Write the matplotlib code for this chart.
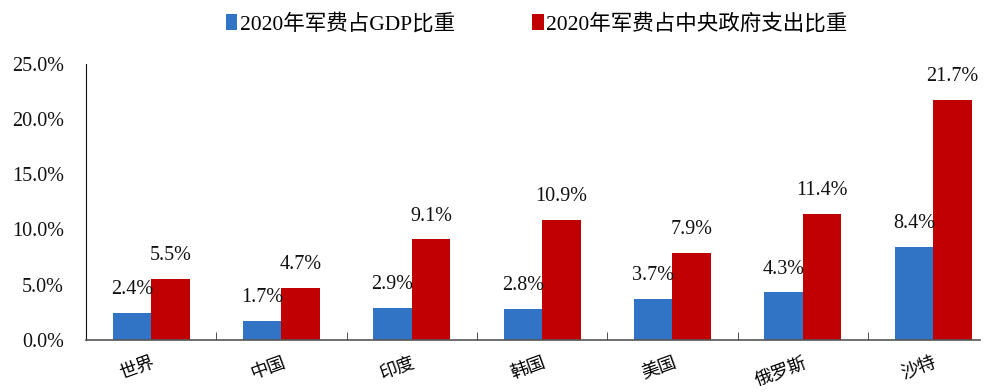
import numpy as np
import matplotlib.pyplot as plt
from matplotlib.ticker import PercentFormatter, FixedLocator

plt.rcParams['font.family'] = ['Liberation Serif', 'Noto Sans CJK SC']

countries = ['世界', '中国', '印度', '韩国', '美国', '俄罗斯', '沙特']
gdp_share = [2.4, 1.7, 2.9, 2.8, 3.7, 4.3, 8.4]
budget_share = [5.5, 4.7, 9.1, 10.9, 7.9, 11.4, 21.7]
series_names = ['2020年军费占GDP比重', '2020年军费占中央政府支出比重']

BLUE = '#3174C6'
RED = '#C00000'

fig = plt.figure(figsize=(9.88, 3.92), dpi=100)
ax = fig.add_axes([0.087, 0.133, 0.905, 0.704])

x = np.arange(len(countries))
w = 0.295
b1 = ax.bar(x - w / 2, gdp_share, w, color=BLUE, label=series_names[0])
b2 = ax.bar(x + w / 2, budget_share, w, color=RED, label=series_names[1])

for bars, vals in ((b1, gdp_share), (b2, budget_share)):
    for rect, v in zip(bars, vals):
        ax.annotate(f'{v:.1f}%', (rect.get_x() + rect.get_width() / 2, v),
                    xytext=(0, 10), textcoords='offset points',
                    ha='center', va='bottom', fontsize=14.5, color='#111111')

ax.set_ylim(0, 25)
ax.set_xlim(-0.5, 6.36)
ax.yaxis.set_major_formatter(PercentFormatter(decimals=1))
ax.set_yticks(np.arange(0, 26, 5))
ax.tick_params(axis='y', length=0, labelsize=14.5, pad=16, labelcolor='#111111')

ax.set_xticks(x)
ax.set_xticklabels(countries, rotation=20, ha='right', rotation_mode='anchor',
                   fontsize=13, family=['Noto Sans CJK SC'])
ax.tick_params(axis='x', which='major', length=0, pad=10)
ax.xaxis.set_minor_locator(FixedLocator(x[:-1] + 0.5))
ax.tick_params(axis='x', which='minor', direction='in', length=6, color='#333333')

for s in ('top', 'right'):
    ax.spines[s].set_visible(False)
ax.spines['left'].set_color('#111111')
ax.spines['bottom'].set_color('#555555')
ax.spines['bottom'].set_linewidth(1.2)

fig.legend(loc='upper center', bbox_to_anchor=(0.543, 1.015), ncol=2, frameon=False,
           fontsize=15.5, handlelength=0.55, handleheight=0.8, handletextpad=0.1,
           columnspacing=3.6)

fig.savefig('out.png', dpi=100)
